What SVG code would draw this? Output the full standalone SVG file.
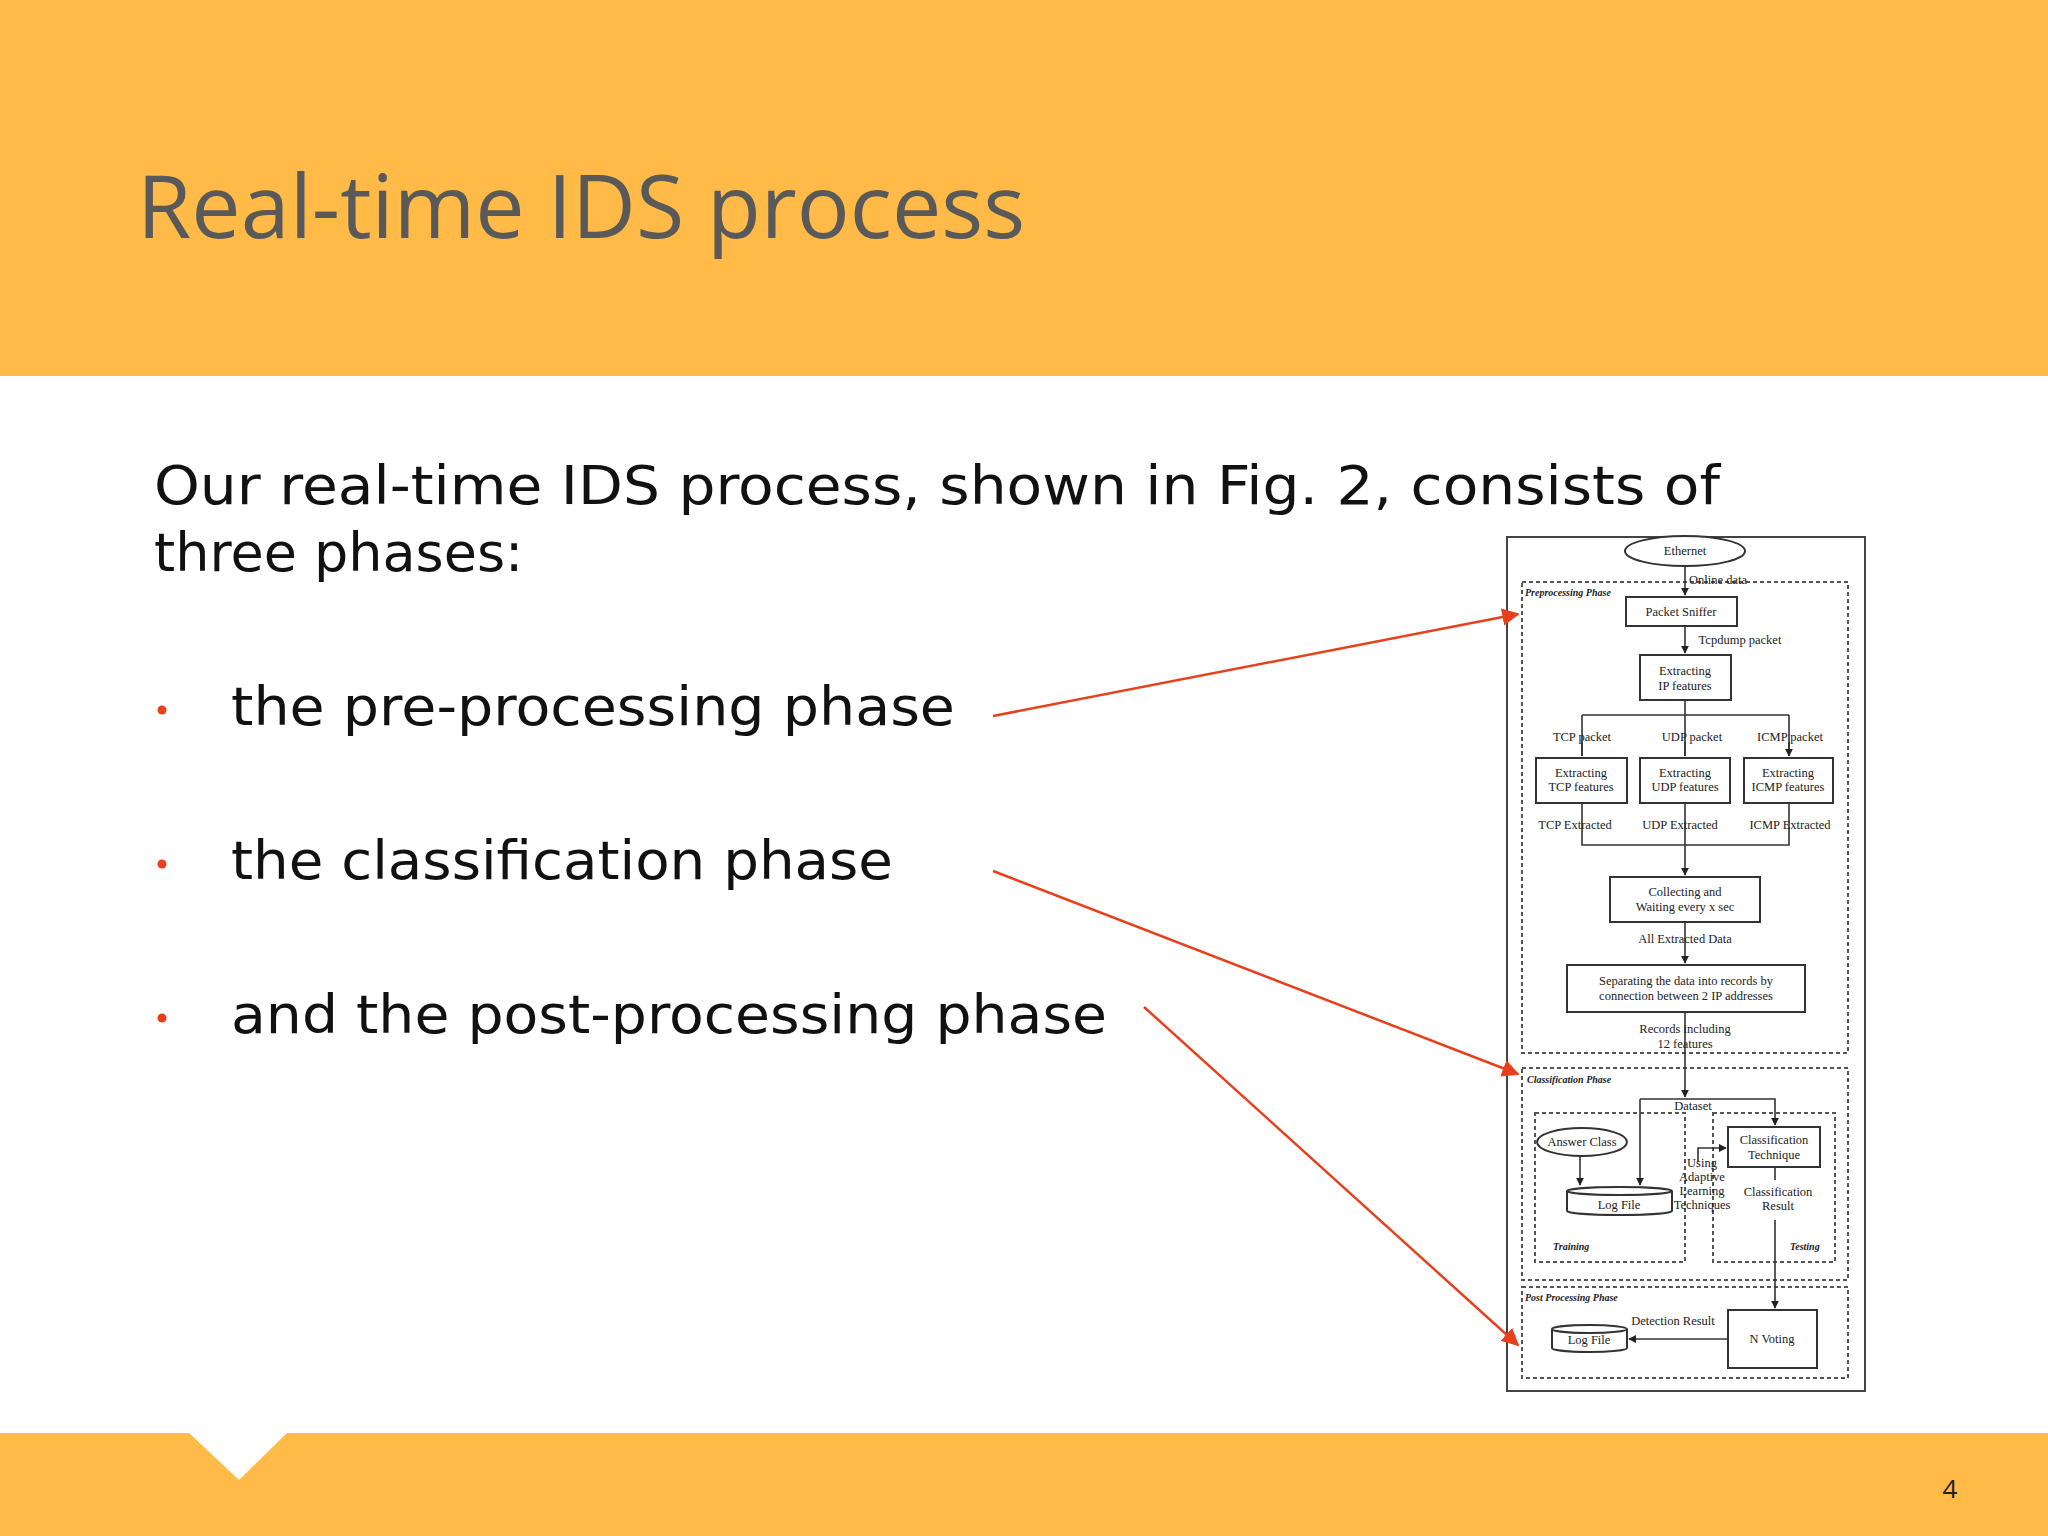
<svg xmlns="http://www.w3.org/2000/svg" width="2048" height="1536" viewBox="0 0 2048 1536">
<style>
.s{font-family:"Liberation Serif",serif;font-size:12.5px;fill:#222;text-anchor:middle}
.pl{font-family:"Liberation Serif",serif;font-size:10px;font-style:italic;font-weight:bold;fill:#222}
.b{fill:#fff;stroke:#333;stroke-width:2}
.d{fill:none;stroke:#555;stroke-width:2;stroke-dasharray:4 3}
.l{fill:none;stroke:#333;stroke-width:1.6}
.body{font-family:"DejaVu Sans",Verdana,sans-serif;font-size:54px;fill:#111}
.r{stroke:#E8401C;stroke-width:2.5;fill:none}
</style>
<defs>
<marker id="a" viewBox="0 0 10 10" refX="9" refY="5" markerWidth="5" markerHeight="5" orient="auto"><path d="M0,0L10,5L0,10z" fill="#222"/></marker>
<marker id="ra" viewBox="0 0 10 10" refX="9" refY="5" markerWidth="7" markerHeight="7" orient="auto"><path d="M0,0L10,5L0,10z" fill="#E8401C"/></marker>
</defs>
<rect width="2048" height="1536" fill="#fff"/>
<rect width="2048" height="376" fill="#FFBA47"/>
<text x="137" y="238" font-family="Open Sans, sans-serif" font-size="88" fill="#595959">Real-time IDS process</text>
<text class="body" x="154" y="504" textLength="1566" lengthAdjust="spacingAndGlyphs">Our real-time IDS process, shown in Fig. 2, consists of</text>
<text class="body" x="154" y="571">three phases:</text>
<g fill="#E8401C"><circle cx="162" cy="710" r="4.5"/><circle cx="162" cy="864" r="4.5"/><circle cx="162" cy="1018" r="4.5"/></g>
<text class="body" x="231" y="725" textLength="724" lengthAdjust="spacingAndGlyphs">the pre-processing phase</text>
<text class="body" x="231" y="879" textLength="662" lengthAdjust="spacingAndGlyphs">the classification phase</text>
<text class="body" x="231" y="1033" textLength="876" lengthAdjust="spacingAndGlyphs">and the post-processing phase</text>
<rect y="1433" width="2048" height="103" fill="#FFBA47"/>
<path d="M189,1433L287,1433L239,1480z" fill="#fff"/>
<text x="1950" y="1498" font-family="Open Sans, sans-serif" font-size="26" fill="#222" text-anchor="middle">4</text>

<g id="figure">
<rect x="1507" y="537" width="358" height="854" fill="#fff" stroke="#444" stroke-width="2"/>
<rect class="d" x="1522" y="582" width="326" height="471"/>
<rect class="d" x="1522" y="1068" width="326" height="212"/>
<rect class="d" x="1535" y="1113" width="150" height="149"/>
<rect class="d" x="1713" y="1113" width="122" height="149"/>
<rect class="d" x="1522" y="1287" width="326" height="91"/>
<text class="pl" x="1525" y="596">Preprocessing Phase</text>
<text class="pl" x="1527" y="1083">Classification Phase</text>
<text class="pl" x="1525" y="1301">Post Processing Phase</text>
<text class="pl" x="1553" y="1250" font-size="11">Training</text>
<text class="pl" x="1790" y="1250" font-size="11">Testing</text>
</g>
<g id="connectors">
<path class="l" d="M1685,566V595" marker-end="url(#a)"/>
<path class="l" d="M1685,626V653" marker-end="url(#a)"/>
<path class="l" d="M1685,700V715M1582,715H1789M1582,715V756M1685,715V756M1789,715V756" />
<path class="l" d="M1582,742V756M1685,742V756M1789,742V756" marker-end="url(#a)"/>
<path class="l" d="M1582,803V845H1789V803M1685,803V875" marker-end="url(#a)"/>
<path class="l" d="M1685,922V963" marker-end="url(#a)"/>
<path class="l" d="M1685,1012V1097" marker-end="url(#a)"/>
<path class="l" d="M1640,1099H1775V1125" marker-end="url(#a)"/>
<path class="l" d="M1640,1099V1185" marker-end="url(#a)"/>
<path class="l" d="M1580,1156V1185" marker-end="url(#a)"/>
<path class="l" d="M1698,1162V1148H1726" marker-end="url(#a)"/>
<path class="l" d="M1775,1167V1180"/>
<path class="l" d="M1775,1220V1308" marker-end="url(#a)"/>
<path class="l" d="M1728,1339H1629" marker-end="url(#a)"/>
<path class="r" d="M993,716L1518,614" marker-end="url(#ra)"/>
<path class="r" d="M993,871L1518,1074" marker-end="url(#ra)"/>
<path class="r" d="M1144,1007L1518,1345" marker-end="url(#ra)"/>
</g>
<g id="ethernet"><ellipse class="b" cx="1685" cy="551" rx="60" ry="15"/><text class="s" x="1685" y="555">Ethernet</text></g>
<text class="s" x="1718" y="584">Online data</text>
<g id="sniffer"><rect class="b" x="1626" y="597" width="111" height="29"/><text class="s" x="1681" y="616">Packet Sniffer</text></g>
<text class="s" x="1740" y="644">Tcpdump packet</text>
<g id="ip"><rect class="b" x="1640" y="655" width="91" height="45"/><text class="s" x="1685" y="675">Extracting</text><text class="s" x="1685" y="690">IP features</text></g>
<text class="s" x="1582" y="741">TCP packet</text>
<text class="s" x="1692" y="741">UDP packet</text>
<text class="s" x="1790" y="741">ICMP packet</text>
<g id="tcp"><rect class="b" x="1536" y="758" width="91" height="45"/><text class="s" x="1581" y="777">Extracting</text><text class="s" x="1581" y="791">TCP features</text></g>
<g id="udp"><rect class="b" x="1640" y="758" width="90" height="45"/><text class="s" x="1685" y="777">Extracting</text><text class="s" x="1685" y="791">UDP features</text></g>
<g id="icmp"><rect class="b" x="1744" y="758" width="89" height="45"/><text class="s" x="1788" y="777">Extracting</text><text class="s" x="1788" y="791">ICMP features</text></g>
<text class="s" x="1575" y="829">TCP Extracted</text>
<text class="s" x="1680" y="829">UDP Extracted</text>
<text class="s" x="1790" y="829">ICMP Extracted</text>
<g id="collect"><rect class="b" x="1610" y="877" width="150" height="45"/><text class="s" x="1685" y="896">Collecting and</text><text class="s" x="1685" y="911">Waiting every x sec</text></g>
<text class="s" x="1685" y="943">All Extracted Data</text>
<g id="separate"><rect class="b" x="1567" y="965" width="238" height="47"/><text class="s" x="1686" y="985">Separating the data into records by</text><text class="s" x="1686" y="1000">connection between 2 IP addresses</text></g>
<text class="s" x="1685" y="1033">Records including</text>
<text class="s" x="1685" y="1048">12 features</text>
<text class="s" x="1693" y="1110">Dataset</text>
<g id="answer"><ellipse class="b" cx="1582" cy="1142" rx="45" ry="14"/><text class="s" x="1582" y="1146">Answer Class</text></g>
<g id="log1"><path class="b" d="M1567,1191V1211A52,4 0 0 0 1672,1211V1191A52,4 0 0 0 1567,1191A52,4 0 0 0 1672,1191"/><text class="s" x="1619" y="1209">Log File</text></g>
<text class="s" x="1702" y="1167">Using</text>
<text class="s" x="1702" y="1181">Adaptive</text>
<text class="s" x="1702" y="1195">Learning</text>
<text class="s" x="1702" y="1209">Techniques</text>
<g id="technique"><rect class="b" x="1728" y="1127" width="92" height="40"/><text class="s" x="1774" y="1144">Classification</text><text class="s" x="1774" y="1159">Technique</text></g>
<text class="s" x="1778" y="1196">Classification</text>
<text class="s" x="1778" y="1210">Result</text>
<g id="voting"><rect class="b" x="1728" y="1310" width="89" height="58"/><text class="s" x="1772" y="1343">N Voting</text></g>
<g id="log2"><path class="b" d="M1552,1329V1348A37,4 0 0 0 1627,1348V1329A37,4 0 0 0 1552,1329A37,4 0 0 0 1627,1329"/><text class="s" x="1589" y="1344">Log File</text></g>
<text class="s" x="1673" y="1325">Detection Result</text>
</svg>
